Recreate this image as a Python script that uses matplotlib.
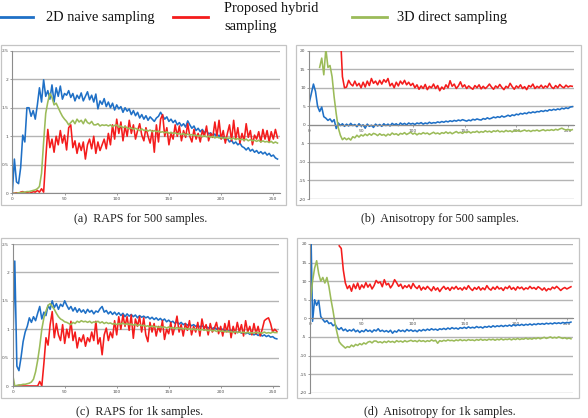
import numpy as np
import matplotlib.pyplot as plt
from matplotlib.lines import Line2D
from matplotlib.patches import Rectangle

nan = float('nan')

# samples every 2 units of x, starting at 0
STEP = 2

A_BLUE = [0.0, 0.6, 0.2, 0.17, 0.45, 1.02, 0.9, 1.5, 1.5, 1.35, 1.45, 1.3, 1.55, 1.85, 1.6, 1.99,
          1.7, 1.8, 1.65, 1.9, 1.6, 1.85, 1.7, 1.88, 1.65, 1.75, 1.72, 1.8, 1.68, 1.75, 1.62, 1.72,
          1.66, 1.76, 1.62, 1.7, 1.78, 1.64, 1.72, 1.6, 1.74, 1.48, 1.62, 1.56, 1.66, 1.52, 1.6, 1.5,
          1.58, 1.46, 1.55, 1.48, 1.52, 1.42, 1.5, 1.44, 1.48, 1.38, 1.45, 1.36, 1.42, 1.32, 1.38, 1.3,
          1.36, 1.28, 1.34, 1.3, 1.26, 1.32, 1.35, 1.42, 1.36, 1.3, 1.34, 1.26, 1.3, 1.24, 1.28, 1.2,
          1.24, 1.18, 1.22, 1.16, 1.27, 1.2, 1.14, 1.18, 1.1, 1.14, 1.08, 1.12, 1.06, 1.1, 1.04, 1.06,
          1.0, 1.04, 0.98, 1.02, 0.96, 0.99, 0.93, 0.96, 0.9, 0.93, 0.87, 0.9, 0.85, 0.88, 0.82, 0.8,
          0.76, 0.8, 0.74, 0.77, 0.72, 0.75, 0.7, 0.73, 0.69, 0.72, 0.67, 0.7, 0.65, 0.67, 0.62, 0.6]
A_RED = [0.0, 0.0, 0.01, 0.0, 0.02, 0.03, 0.01, 0.02, 0.0, 0.01, 0.03, 0.02, 0.05, 0.02, 0.08, 0.02,
         0.6, 1.12, 0.8, 0.95, 0.72, 1.0, 0.85, 1.1, 0.88, 1.02, 0.76, 1.15, 1.2, 0.8, 0.92, 0.7,
         0.88, 0.75, 0.9, 0.6, 0.85, 0.95, 0.78, 1.0, 0.7, 0.9, 0.75, 0.85, 0.95, 0.78, 1.05, 0.85,
         1.2, 0.95, 1.3, 1.05, 1.25, 0.92, 1.18, 1.0, 1.28, 1.05, 1.2, 0.95, 1.1, 1.22, 1.02, 0.92,
         1.15, 1.0, 0.88, 1.1, 0.72, 1.2, 0.9, 1.3, 1.38, 1.0, 1.15, 0.85, 1.05, 0.95, 1.2, 1.0,
         1.18, 0.92, 1.1, 0.98, 1.22, 1.0, 0.9, 1.12, 0.95, 1.05, 0.9, 1.1, 1.0, 1.18, 0.92, 1.05,
         0.98, 1.25, 1.0, 1.28, 0.95, 1.1, 0.88, 1.05, 1.2, 0.92, 1.28, 0.95, 1.15, 0.88, 1.05, 0.92,
         1.22, 0.98, 1.1, 0.85, 1.02, 0.95, 1.08, 0.9, 1.12, 0.95, 1.1, 0.9, 1.08, 0.95, 1.12, 0.97]
A_GREEN = [0.0, 0.0, 0.0, 0.01, 0.01, 0.02, 0.02, 0.03, 0.03, 0.04, 0.05, 0.06, 0.08, 0.12, 0.35, 0.9,
           1.4, 1.6, 1.75, 1.68, 1.55, 1.58, 1.5, 1.42, 1.35, 1.3, 1.26, 1.2, 1.24, 1.28, 1.22, 1.3,
           1.25, 1.28, 1.22, 1.3, 1.24, 1.22, 1.26, 1.2, 1.2, 1.22, 1.18, 1.2, 1.19, 1.2, 1.18, 1.2,
           1.17, 1.19, 1.2, 1.16, 1.18, 1.15, 1.17, 1.15, 1.13, 1.15, 1.12, 1.14, 1.12, 1.1, 1.13, 1.1,
           1.11, 1.09, 1.11, 1.08, 1.1, 1.08, 1.09, 1.07, 1.08, 1.06, 1.08, 1.05, 1.07, 1.05, 1.06, 1.04,
           1.05, 1.03, 1.05, 1.02, 1.04, 1.02, 1.03, 1.01, 1.02, 1.0, 1.02, 0.99, 1.01, 0.99, 1.0, 0.98,
           1.0, 0.97, 0.99, 0.97, 0.98, 0.96, 0.98, 0.96, 0.97, 0.95, 0.97, 0.94, 0.96, 0.94, 0.95, 0.93,
           0.95, 0.92, 0.94, 0.92, 0.93, 0.91, 0.93, 0.9, 0.92, 0.9, 0.91, 0.89, 0.91, 0.88, 0.9, 0.88]

B_BLUE = [6.0, 8.5, 11.0, 9.0, 5.0, 3.6, 4.8, 2.2, 1.8, 1.2, 1.6, 0.8, 1.4, -1.0, 0.5, -0.2,
          0.3, -0.4, 0.2, -0.3, 0.4, -0.2, 0.1, -0.5, 0.3, -0.3, 0.0, -0.9, 0.2, -0.4, -0.1, -0.7,
          0.2, -0.3, 0.1, -0.4, 0.3, -0.2, 0.2, -0.3, 0.4, 0.0, 0.3, -0.2, 0.5, 0.1, 0.4, 0.0,
          0.5, 0.2, 0.4, 0.1, 0.5, 0.3, 0.6, 0.2, 0.5, 0.3, 0.7, 0.4, 0.6, 0.5, 0.8, 0.6,
          0.9, 0.7, 1.0, 0.8, 1.1, 0.9, 1.2, 1.0, 1.3, 1.1, 1.4, 1.2, 1.0, 1.3, 1.1, 1.5,
          1.3, 1.6, 1.4, 1.3, 1.7, 1.5, 1.9, 1.6, 1.8, 2.1, 1.9, 2.2, 2.0, 2.4, 2.1, 2.3,
          2.6, 2.3, 2.7, 2.5, 2.9, 2.7, 3.1, 2.9, 3.2, 3.0, 3.4, 3.2, 3.5, 3.3, 3.6, 3.5,
          3.8, 3.6, 3.9, 3.7, 4.1, 3.9, 4.2, 4.0, 4.3, 4.1, 4.5, 4.3, 4.6, 4.4, 4.8, 4.9]
B_RED = [nan, nan, nan, nan, nan, nan, nan, nan, nan, nan, nan, nan, nan, nan, nan, 25.0,
         13.0, 10.0, 10.2, 12.0, 11.0, 10.5, 11.8, 10.5, 11.2, 10.0, 11.5, 10.2, 11.8, 10.6, 12.5, 11.2,
         11.8, 10.8, 12.0, 11.0, 12.2, 11.5, 12.5, 10.5, 11.2, 10.0, 11.5, 10.5, 11.8, 11.0, 12.0, 10.8,
         11.5, 10.6, 11.2, 10.0, 10.8, 9.6, 10.5, 9.8, 10.9, 9.5, 10.4, 10.0, 11.0, 9.8, 10.6, 9.2,
         10.2, 9.6, 10.8, 10.0, 11.9, 10.4, 11.0, 9.8, 10.5, 11.6, 10.2, 10.8, 9.8, 10.5, 10.0, 9.6,
         10.6, 10.0, 10.8, 9.7, 10.4, 9.8, 10.3, 11.0, 10.2, 9.6, 10.5, 10.0, 10.9, 10.1, 9.5, 10.4,
         10.0, 11.2, 10.3, 9.6, 10.5, 10.0, 10.8, 9.8, 10.3, 9.5, 10.6, 10.2, 11.0, 9.8, 10.4, 10.0,
         10.7, 9.9, 10.5, 10.1, 11.2, 10.2, 9.8, 10.6, 10.0, 10.9, 10.3, 10.0, 10.7, 10.2, 10.5, 10.4]
B_GREEN = [nan, nan, nan, nan, nan, 15.5, 18.0, 13.5, 20.5, 15.5, 16.0, 13.0, 7.5, 3.0, -0.8, -2.8,
           -4.0, -3.5, -4.0, -3.6, -4.1, -3.2, -3.5, -2.8, -3.3, -2.7, -3.0, -2.5, -2.9, -2.4, -2.8, -2.3,
           -2.5, -2.9, -2.4, -2.8, -2.6, -3.0, -2.5, -2.8, -2.2, -2.6, -2.4, -2.8, -2.3, -2.5, -2.1, -2.6,
           -2.3, -2.0, -2.5, -2.2, -2.7, -2.3, -2.5, -2.1, -2.4, -2.2, -2.6, -2.3, -2.0, -2.4, -2.2, -2.5,
           -2.1, -2.3, -1.9, -2.3, -2.0, -2.4, -2.1, -1.8, -2.2, -2.0, -2.3, -1.9, -2.1, -1.8, -2.2, -1.9,
           -2.0, -1.7, -2.1, -1.8, -2.0, -1.6, -1.9, -1.7, -2.0, -1.6, -1.8, -1.5, -1.9, -1.7, -1.9, -1.5,
           -1.8, -1.6, -1.9, -1.5, -1.7, -1.5, -1.8, -1.6, -1.4, -1.7, -1.5, -1.8, -1.5, -1.6, -1.4, -1.7,
           -1.5, -1.3, -1.6, -1.4, -1.5, -1.3, -1.5, -1.2, -1.4, -1.1, -0.9, -1.2, -1.4, -1.2, -1.5, -1.3]

C_BLUE = [0.6, 2.2, 0.35, 0.27, 0.5, 0.78, 0.95, 1.05, 1.2, 1.12, 1.22, 1.15, 1.28, 1.4, 1.18, 1.3,
          1.24, 1.42, 1.35, 1.5, 1.38, 1.45, 1.35, 1.44, 1.4, 1.5, 1.42, 1.35, 1.4, 1.32, 1.38, 1.3,
          1.36, 1.3, 1.34, 1.28, 1.35, 1.3, 1.33, 1.27, 1.32, 1.3, 1.36, 1.4, 1.3, 1.33, 1.27, 1.31,
          1.26, 1.3, 1.25, 1.29, 1.24, 1.28, 1.22, 1.27, 1.23, 1.26, 1.22, 1.25, 1.2, 1.24, 1.21, 1.23,
          1.2, 1.22, 1.18, 1.21, 1.17, 1.2, 1.16, 1.19, 1.15, 1.18, 1.13, 1.16, 1.12, 1.14, 1.1, 1.13,
          1.09, 1.12, 1.08, 1.1, 1.07, 1.09, 1.06, 1.08, 1.05, 1.07, 1.04, 1.06, 1.03, 1.05, 1.02, 1.04,
          1.01, 1.03, 1.0, 1.02, 0.99, 1.0, 0.97, 0.99, 0.96, 0.98, 0.95, 0.97, 0.94, 0.96, 0.93, 0.95,
          0.92, 0.94, 0.91, 0.93, 0.9, 0.92, 0.89, 0.91, 0.88, 0.9, 0.87, 0.89, 0.86, 0.87, 0.84, 0.83]
C_RED = [0.0, 0.0, 0.0, 0.0, 0.0, 0.0, 0.0, 0.0, 0.0, 0.0, 0.0, 0.0, 0.0, 0.08, 0.0, 0.4,
         0.85, 0.72, 1.08, 1.31, 0.85, 1.1, 0.9, 0.8, 1.08, 0.75, 1.0, 0.85, 1.14, 0.8, 0.95, 0.67,
         0.85, 0.78, 0.9, 0.7, 0.85, 0.78, 0.95, 0.8, 1.14, 0.74, 0.85, 0.55, 0.9, 1.02, 0.8, 0.95,
         0.85, 1.15, 0.9, 1.22, 1.0, 1.25, 1.05, 1.22, 0.98, 1.25, 0.84, 1.18, 1.05, 1.22, 0.95, 1.2,
         0.9, 0.78, 1.12, 0.95, 1.1, 0.88, 1.05, 0.95, 1.15, 0.82, 1.0, 0.92, 1.12, 0.9, 1.05, 1.23,
         0.95, 1.08, 0.88, 1.1, 0.98, 1.15, 0.9, 1.05, 0.95, 1.12, 0.88, 1.18, 1.0, 1.08, 0.9, 1.1,
         0.95, 1.02, 1.12, 0.92, 1.05, 0.88, 1.1, 0.95, 1.15, 0.85, 1.05, 0.92, 1.12, 0.95, 1.08, 0.88,
         1.15, 0.95, 1.05, 0.9, 1.1, 0.92, 1.05, 0.88, 1.0, 1.15, 1.18, 1.2, 1.1, 0.95, 1.0, 0.96]
C_GREEN = [0.2, 0.0, 0.01, 0.02, 0.02, 0.03, 0.03, 0.04, 0.05, 0.07, 0.12, 0.25, 0.45, 0.7, 1.0, 1.2,
           1.32, 1.42, 1.45, 1.4, 1.35, 1.28, 1.22, 1.18, 1.16, 1.13, 1.12, 1.1, 1.08, 1.12, 1.1, 1.14,
           1.12, 1.15, 1.13, 1.14, 1.12, 1.14, 1.11, 1.13, 1.12, 1.14, 1.11, 1.13, 1.1, 1.12, 1.1, 1.11,
           1.09, 1.1, 1.08, 1.1, 1.09, 1.11, 1.08, 1.1, 1.08, 1.09, 1.07, 1.09, 1.06, 1.08, 1.06, 1.07,
           1.05, 1.06, 1.04, 1.06, 1.04, 1.05, 1.03, 1.05, 1.03, 1.04, 1.02, 1.04, 1.02, 1.03, 1.01, 1.03,
           1.01, 1.02, 1.0, 1.02, 1.0, 1.01, 0.99, 1.01, 0.99, 1.0, 0.98, 1.0, 0.98, 0.99, 0.97, 0.99,
           0.97, 0.98, 0.96, 0.98, 0.96, 0.97, 0.95, 0.97, 0.95, 0.96, 0.94, 0.96, 0.94, 0.95, 0.94, 0.95,
           0.93, 0.95, 0.93, 0.94, 0.93, 0.95, 0.93, 0.94, 0.93, 0.95, 0.93, 0.94, 0.93, 0.95, 0.94, 0.94]

D_BLUE = [30.0, -0.8, 5.0, 3.5, 4.8, 0.5, -0.3, -1.0, -0.6, -1.4, -1.2, -2.0, -1.6, -2.6, -3.0, -2.5,
          -3.3, -2.9, -3.5, -3.1, -3.4, -2.9, -3.6, -3.2, -3.8, -3.3, -3.6, -3.0, -3.5, -3.2, -3.7, -3.1,
          -3.4, -2.8, -3.5, -3.2, -3.6, -3.3, -3.7, -3.2, -4.0, -3.4, -3.7, -3.1, -3.5, -3.2, -3.6, -3.0,
          -3.4, -3.1, -3.5, -3.2, -3.6, -3.1, -3.4, -3.0, -3.3, -2.9, -3.2, -2.8, -3.1, -2.9, -3.2, -2.8,
          -3.0, -2.7, -3.0, -2.6, -2.9, -2.5, -2.8, -2.6, -2.9, -2.5, -2.7, -2.4, -2.7, -2.3, -2.6, -2.4,
          -2.6, -2.2, -2.5, -2.3, -2.6, -2.2, -2.4, -2.1, -2.4, -2.0, -2.3, -2.0, -2.2, -1.9, -2.2, -1.9,
          -2.1, -1.8, -2.1, -1.7, -2.0, -1.7, -1.9, -1.6, -1.9, -1.6, -1.8, -1.5, -1.8, -1.5, -1.7, -1.4,
          -1.6, -1.4, -1.6, -1.3, -1.5, -1.3, -1.5, -1.2, -1.4, -1.2, -1.4, -1.1, -1.3, -1.1, -1.2, -1.0]
D_RED = [nan, nan, nan, nan, nan, nan, nan, nan, nan, nan, nan, nan, nan, nan, 19.5, 18.8,
         13.0, 9.5, 8.0, 8.8, 7.3, 9.2, 8.0, 9.5, 7.8, 9.0, 8.2, 9.6, 8.4, 9.2, 7.9, 8.8,
         10.2, 9.5, 9.8, 8.5, 10.4, 9.0, 9.4, 8.2, 9.0, 10.4, 9.6, 8.6, 9.2, 8.0, 8.8, 8.3,
         9.0, 8.0, 9.4, 8.5, 8.0, 8.8, 7.6, 8.4, 7.8, 8.6, 8.0, 7.4, 8.5, 7.6, 8.2, 7.2,
         8.0, 8.6, 7.8, 8.3, 7.5, 8.4, 7.9, 8.6, 7.8, 8.2, 7.6, 8.4, 7.8, 8.8, 8.0, 7.5,
         8.3, 7.8, 8.5, 7.6, 8.2, 7.7, 8.8, 8.0, 7.6, 8.4, 7.8, 8.6, 7.9, 8.2, 7.5, 8.4,
         8.0, 8.7, 7.8, 8.3, 7.6, 8.5, 8.0, 8.4, 7.7, 8.2, 7.9, 8.6, 8.0, 8.3, 7.8, 8.5,
         8.1, 7.6, 8.2, 7.4, 8.0, 7.7, 8.4, 8.0, 8.6, 8.1, 7.5, 8.0, 8.3, 7.9, 8.2, 8.5]
D_GREEN = [5.0, 10.0, 13.5, 15.5, 12.0, 10.0, 11.0, 9.5, 11.0, 8.5, 5.0, 2.0, -1.5, -4.0, -6.3, -7.0,
           -7.5, -8.0, -7.6, -7.8, -7.2, -7.6, -7.0, -7.3, -6.8, -7.1, -6.6, -6.9, -6.4, -6.2, -6.6, -6.1,
           -6.1, -6.5, -6.3, -6.6, -6.2, -6.5, -6.1, -6.4, -6.2, -6.5, -6.0, -6.3, -6.1, -6.4, -6.0, -6.3,
           -6.1, -5.9, -6.2, -6.0, -6.3, -5.9, -6.2, -6.0, -6.3, -6.0, -6.2, -5.8, -6.1, -5.9, -6.7, -6.0,
           -6.2, -5.9, -6.1, -5.8, -6.0, -5.9, -6.1, -5.8, -6.0, -5.7, -6.0, -5.8, -6.0, -5.7, -5.9, -5.8,
           -6.0, -5.7, -5.9, -5.6, -5.9, -5.7, -5.9, -5.6, -5.8, -5.6, -5.9, -5.6, -5.8, -5.5, -5.8, -5.6,
           -5.7, -5.5, -5.8, -5.5, -5.7, -5.4, -5.7, -5.5, -5.6, -5.3, -5.6, -5.4, -5.6, -5.3, -5.5, -5.2,
           -5.5, -5.3, -5.1, -5.4, -5.2, -5.0, -5.3, -5.1, -5.3, -5.0, -5.2, -5.4, -5.2, -5.5, -5.3, -5.5]

LABELS = ['2D naive sampling', 'Proposed hybrid\nsampling', '3D direct sampling']
COLORS = ['#1f70c6', '#f41c1c', '#9bbb59']
CAPTIONS = ['(a)  RAPS for 500 samples.', '(b)  Anisotropy for 500 samples.',
            '(c)  RAPS for 1k samples.', '(d)  Anisotropy for 1k samples.']
XTICKS = [0, 50, 100, 150, 200, 250]
RAPS_TICKS = [0, 0.5, 1, 1.5, 2, 2.5]
RAPS_LABELS = ['0', '0.5', '1', '1.5', '2', '2.5']
ANI_TICKS = [-20, -15, -10, -5, 0, 5, 10, 15, 20]
ANI_LABELS = [str(t) for t in ANI_TICKS]

W, H = 588, 418
SERIF = 'Liberation Serif'


def frame(l, r, t, b):
    return [l / W, 1 - b / H, (r - l) / W, (b - t) / H]


def box(fig, l, r, t, b):
    fig.add_artist(Rectangle((l / W, 1 - b / H), (r - l) / W, (b - t) / H,
                             transform=fig.transFigure, fill=False,
                             ec='#c4c4c4', lw=0.9))


def panel(ax, series, ticks, ticklabels):
    for vals, color in zip(series, COLORS):
        x = np.arange(len(vals)) * STEP
        ax.plot(x, vals, color=color, lw=1.15, solid_joinstyle='round')
    ax.set_xlim(0, 256)
    ax.set_ylim(ticks[0], ticks[-1])
    ax.set_xticks(XTICKS)
    ax.set_yticks(ticks)
    ax.set_yticklabels(ticklabels)
    ax.grid(axis='y', color='#b4b4b4', lw=1.0)
    ax.set_axisbelow(True)
    ax.set_facecolor('none')
    for s in ('top', 'right'):
        ax.spines[s].set_visible(False)
    for s in ('left', 'bottom'):
        ax.spines[s].set_color('#8c8c8c')
        ax.spines[s].set_linewidth(0.8)
    if ticks[0] < 0:
        ax.spines['bottom'].set_position(('data', 0))
    ax.tick_params(labelsize=3.2, colors='#8c8c8c', labelcolor='#505050',
                   length=1.5, width=0.6, pad=1.2)


fig = plt.figure(figsize=(W / 100, H / 100), dpi=100)

ax_a = fig.add_axes(frame(12.3, 279.6, 50.7, 193.3))
panel(ax_a, [A_BLUE, A_RED, A_GREEN], RAPS_TICKS, RAPS_LABELS)
ax_b = fig.add_axes(frame(309.3, 574.3, 50.7, 199.0))
panel(ax_b, [B_BLUE, B_RED, B_GREEN], ANI_TICKS, ANI_LABELS)
ax_c = fig.add_axes(frame(12.7, 278.9, 244.0, 386.0))
panel(ax_c, [C_BLUE, C_RED, C_GREEN], RAPS_TICKS, RAPS_LABELS)
ax_d = fig.add_axes(frame(310.5, 573.0, 244.0, 392.7))
panel(ax_d, [D_BLUE, D_RED, D_GREEN], ANI_TICKS, ANI_LABELS)

box(fig, 1, 286, 45, 205)
box(fig, 296, 581, 45, 205)
box(fig, 1, 287, 238, 398)
box(fig, 297, 579, 238, 398)

# captions
for text, (cx, cy) in zip(CAPTIONS, [(141, 219), (440, 219), (140, 412), (440, 412)]):
    fig.text(cx / W, 1 - cy / H, text, ha='center', va='center',
             fontsize=8.7, family=SERIF, color='#202020')

# legend across the top
for label, color, (x0, x1, tx) in zip(LABELS, COLORS,
                                      [(0, 33, 46), (173, 208, 224), (352, 387, 397)]):
    fig.add_artist(Line2D([x0 / W, x1 / W], [1 - 17 / H, 1 - 17 / H],
                          transform=fig.transFigure, color=color, lw=2.0))
    fig.text(tx / W, 1 - 17.5 / H, label, ha='left', va='center',
             fontsize=10.4, family=SERIF, color='#111111', linespacing=1.55)

fig.savefig('out.png', dpi=100)
